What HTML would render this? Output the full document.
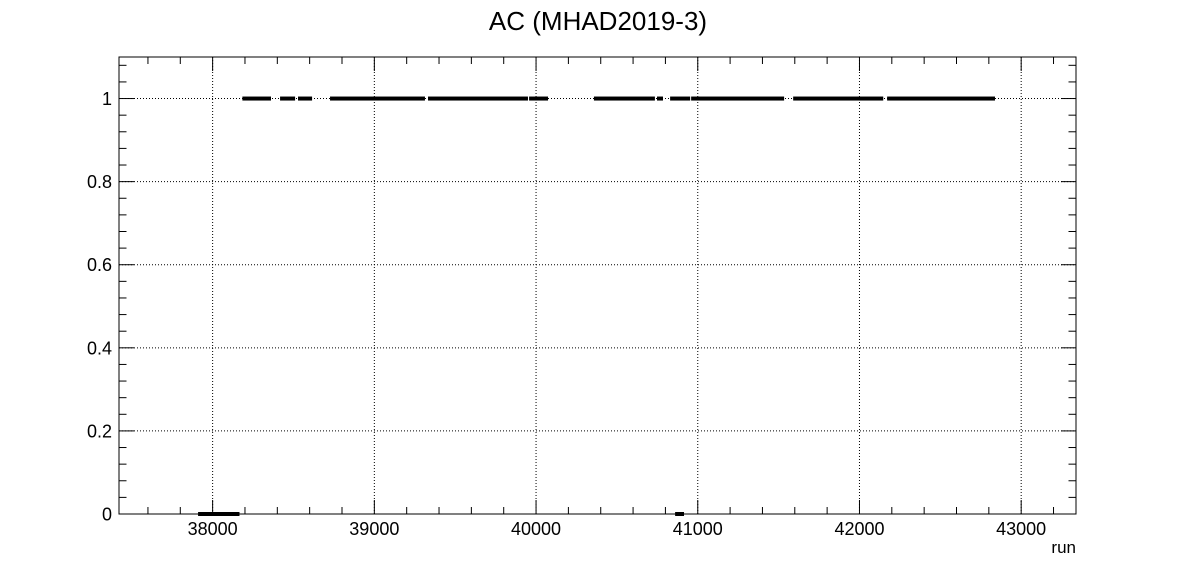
<!DOCTYPE html>
<html><head><meta charset="utf-8"><style>
html,body{margin:0;padding:0;background:#fff;}
svg text{font-family:"Liberation Sans",Arial,sans-serif;fill:#000;}
</style></head><body>
<svg id="chart" width="1196" height="572" xmlns="http://www.w3.org/2000/svg">
<rect x="0" y="0" width="1196" height="572" fill="#fff"/>
<text x="598" y="30" font-size="26" text-anchor="middle">AC (MHAD2019-3)</text>
<g id="grid"></g>
<g id="marks"></g>
<g id="axes"></g>
<rect x="119" y="57" width="957" height="457" fill="none" stroke="#000" stroke-width="1"/>
<text x="1076" y="553" font-size="17" text-anchor="end">run</text>
</svg>
<script>
const segStarts = [38184,38417,38528,38726,39332,39957,40358,40748,40829,40959,41590,42171,37910,40860];
const segEnds   = [38361,38510,38615,39313,39950,40074,40735,40785,40953,41534,42147,42838,38166,40915];
const segValues = [1,1,1,1,1,1,1,1,1,1,1,1,0,0];
const xTicks = [38000,39000,40000,41000,42000,43000];
const yTicks = [0,0.2,0.4,0.6,0.8,1];
const yTickLabels = ["0","0.2","0.4","0.6","0.8","1"];

const X0=119,X1=1076,Y0=514,Y1=57;
const xMin=37421,xMax=43339,yMin=0,yMax=1.1;
const sx=v=>X0+(v-xMin)/(xMax-xMin)*(X1-X0);
const sy=v=>Y0-(v-yMin)/(yMax-yMin)*(Y0-Y1);
const NS="http://www.w3.org/2000/svg";
function mk(tag,attrs,parent){const e=document.createElementNS(NS,tag);for(const k in attrs)e.setAttribute(k,attrs[k]);parent.appendChild(e);return e;}
const grid=document.getElementById('grid'),marks=document.getElementById('marks'),axes=document.getElementById('axes');

xTicks.forEach(t=>{
  const x=sx(t);
  const g=mk('line',{x1:x,x2:x,y1:Y0,y2:Y1,stroke:'#000','stroke-width':1,'stroke-dasharray':'1,2'},grid);
  
  
  const lb=mk('text',{x:x,y:535,'font-size':18,'text-anchor':'middle'},axes);
  lb.textContent=t;
  
  
});
yTicks.forEach((t,i)=>{
  const y=sy(t);
  if(t>0){
    const g=mk('line',{x1:X0,x2:X1,y1:y,y2:y,stroke:'#000','stroke-width':1,'stroke-dasharray':'1,2'},grid);
    
    
  }
  const lb=mk('text',{x:112,y:y+6.5,'font-size':18,'text-anchor':'end'},axes);
  lb.textContent=yTickLabels[i];
  
  
});
for(let v=37600;v<=xMax;v+=200){
  const x=sx(v);const major=(v%1000===0);const L=major?14:7;
  const a=mk('line',{x1:x,x2:x,y1:Y0,y2:Y0-L,stroke:'#000','stroke-width':1},axes);
  
  
  const b=mk('line',{x1:x,x2:x,y1:Y1,y2:Y1+L,stroke:'#000','stroke-width':1},axes);
  
  
}
for(let k=0;k<=27;k++){
  const v=k*0.04;if(v>yMax+1e-9)break;
  const y=sy(v);const major=(k%5===0);const L=major?15:7.5;
  const a=mk('line',{x1:X0,x2:X0+L,y1:y,y2:y,stroke:'#000','stroke-width':1},axes);
  
  
  const b=mk('line',{x1:X1,x2:X1-L,y1:y,y2:y,stroke:'#000','stroke-width':1},axes);
  
  
}
segStarts.forEach((s,i)=>{
  const y=sy(segValues[i]);
  const r=mk('rect',{x:sx(s),y:y-2,width:Math.max(1,sx(segEnds[i])-sx(s)),height:4,fill:'#000'},marks);
  
  
});
</script>
</body></html>
